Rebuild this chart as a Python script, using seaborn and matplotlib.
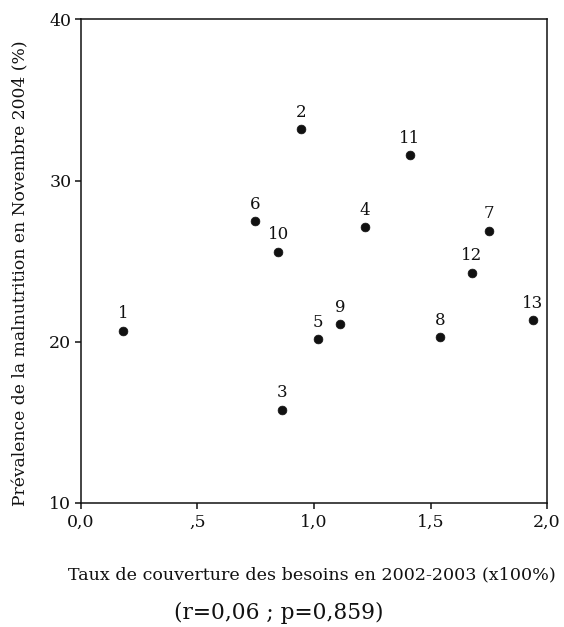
import matplotlib
matplotlib.use("Agg")
import matplotlib.pyplot as plt
import seaborn as sns
import pandas as pd

# Coverage rate of needs (2002-2003, x100%) and malnutrition prevalence (Nov. 2004, %)
site_ids = ["1", "2", "3", "4", "5", "6", "7", "8", "9", "10", "11", "12", "13"]
coverage = [0.18, 0.944, 0.863, 1.218, 1.017, 0.747, 1.75, 1.542, 1.112, 0.847, 1.412, 1.676, 1.939]
prevalence = [20.7, 33.2, 15.8, 27.1, 20.15, 27.5, 26.9, 20.3, 21.1, 25.6, 31.6, 24.3, 21.35]

x_ticks = [0.0, 0.5, 1.0, 1.5, 2.0]
x_tick_labels = ["0,0", ",5", "1,0", "1,5", "2,0"]
y_ticks = [10, 20, 30, 40]
y_tick_labels = ["10", "20", "30", "40"]

df = pd.DataFrame({"site": site_ids, "coverage": coverage, "prevalence": prevalence})

sns.set_theme(style="ticks")
plt.rcParams["font.family"] = ["DejaVu Serif"]

fig = plt.figure(figsize=(5.64, 6.27), dpi=100)
ax = fig.add_axes([0.1436, 0.1978, 0.8263, 0.7711])

sns.scatterplot(data=df, x="coverage", y="prevalence", ax=ax,
                color="#111111", s=40, edgecolor="#111111", linewidth=0.5, legend=False)

for _, row in df.iterrows():
    ax.annotate(row["site"], (row["coverage"], row["prevalence"]),
                xytext=(0, 6), textcoords="offset points",
                ha="center", va="bottom", fontsize=12, family="DejaVu Serif", color="#111111")

ax.set_xlim(0, 2.0)
ax.set_ylim(10, 40)
ax.set_xticks(x_ticks)
ax.set_xticklabels(x_tick_labels)
ax.set_yticks(y_ticks)
ax.set_yticklabels(y_tick_labels)
ax.tick_params(axis="both", direction="out", length=4.5, width=1.1, labelsize=12.5,
               colors="#111111", pad=3)
ax.tick_params(axis="y", pad=2.5)

for side in ["top", "right", "left", "bottom"]:
    ax.spines[side].set_visible(True)
    ax.spines[side].set_color("#111111")
    ax.spines[side].set_linewidth(1.1)

ax.set_xlabel("")
ax.set_ylabel("Prévalence de la malnutrition en Novembre 2004 (%)",
              family="DejaVu Serif", fontsize=12.3, color="#111111")
ax.yaxis.set_label_coords(-0.111, 0.476)

fig.text(0.553, 0.083, "Taux de couverture des besoins en 2002-2003 (x100%)",
         ha="center", va="center", family="DejaVu Serif", fontsize=12.6, color="#111111")
fig.text(0.494, 0.022, "(r=0,06 ; p=0,859)", ha="center", va="center",
         family="DejaVu Serif", fontsize=15.7, color="#111111")

fig.savefig("out.png", dpi=100)
